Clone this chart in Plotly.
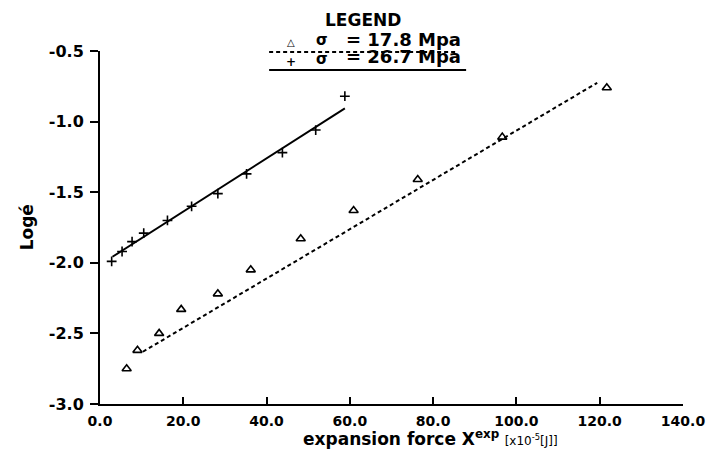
import plotly.graph_objects as go

# sigma = 17.8 MPa (triangles)
tri_x = [6.4, 9.0, 14.2, 19.5, 28.3, 36.2, 48.2, 60.9, 76.3, 96.6, 121.7]
tri_y = [-2.75, -2.62, -2.50, -2.33, -2.22, -2.05, -1.83, -1.63, -1.41, -1.11, -0.76]
# sigma = 26.7 MPa (plus)
plus_x = [2.8, 5.3, 7.7, 10.5, 16.2, 22.0, 28.3, 35.2, 43.8, 51.8, 58.8]
plus_y = [-1.99, -1.92, -1.85, -1.79, -1.70, -1.60, -1.51, -1.37, -1.22, -1.06, -0.82]
# fitted lines (end points)
fit_tri_x = [10.3, 119.4]
fit_tri_y = [-2.63, -0.725]
fit_plus_x = [3.0, 58.8]
fit_plus_y = [-1.957, -0.906]

x_ticks = [0, 20, 40, 60, 80, 100, 120, 140]
x_ticktext = ["0.0", "20.0", "40.0", "60.0", "80.0", "100.0", "120.0", "140.0"]
y_ticks = [-3.0, -2.5, -2.0, -1.5, -1.0, -0.5]
y_ticktext = ["-3.0", "-2.5", "-2.0", "-1.5", "-1.0", "-0.5"]

FONT = "DejaVu Sans"
BOLD = "'DejaVu Sans Bold', 'DejaVu Sans'"
W, H = 717, 450
L, R, T, B = 100, 31, 51, 46
PW, PH = W - L - R, H - T - B


def px(xp):
    return (xp - L) / PW


def py(yp):
    return (H - B - yp) / PH


fig = go.Figure()
fig.add_trace(go.Scatter(x=fit_tri_x, y=fit_tri_y, mode="lines",
                         line=dict(color="black", width=2, dash="4px,3px"),
                         showlegend=False))
fig.add_trace(go.Scatter(x=fit_plus_x, y=fit_plus_y, mode="lines",
                         line=dict(color="black", width=2),
                         showlegend=False))
fig.add_trace(go.Scatter(x=tri_x, y=tri_y, mode="markers",
                         marker=dict(symbol="triangle-up-open", size=8, color="black",
                                     line=dict(width=1.6, color="black")),
                         showlegend=False))
fig.add_trace(go.Scatter(x=plus_x, y=plus_y, mode="markers",
                         marker=dict(symbol="cross-thin", size=7, color="black",
                                     line=dict(width=1.6, color="black")),
                         showlegend=False))

fig.update_layout(
    width=W, height=H,
    margin=dict(l=L, r=R, t=T, b=B),
    paper_bgcolor="white", plot_bgcolor="white",
    font=dict(family=FONT, color="black"),
    xaxis=dict(range=[0, 140], tickvals=x_ticks, ticktext=x_ticktext,
               showgrid=False, zeroline=False, showline=True, linecolor="black",
               linewidth=2, ticks="inside", ticklen=7, tickwidth=1.5, tickcolor="black",
               tickfont=dict(family=BOLD, size=14, color="black", weight=700),
               ticklabelstandoff=3),
    yaxis=dict(range=[-3.0, -0.5], tickvals=y_ticks, ticktext=y_ticktext,
               showgrid=False, zeroline=False, showline=True, linecolor="black",
               linewidth=2, ticks="outside", ticklen=8, tickwidth=1.5, tickcolor="black",
               tickfont=dict(family=BOLD, size=16, color="black", weight=700),
               ticklabelstandoff=3),
)

annotations = [
    dict(text="<b>Logé</b>", textangle=-90, x=px(27), y=py(227), size=17),
    dict(text="<b>expansion force X<sup>exp</sup></b> <span style='font-size:12px'>[x10<sup>-5</sup>[J]]</span>",
         x=px(432), y=py(438), size=17),
    dict(text="<b>LEGEND</b>", x=px(364), y=py(20), size=17),
    dict(text="△", x=px(292), y=py(42), size=10),
    dict(text="<b>σ</b>", x=px(323), y=py(40), size=15),
    dict(text="<b>= 17.8 Mpa</b>", x=px(345), y=py(39), xanchor="left", size=18),
    dict(text="<b>+</b>", x=px(292), y=py(62), size=12),
    dict(text="<b>σ</b>", x=px(323), y=py(59), size=15),
    dict(text="<b>= 26.7 Mpa</b>", x=px(345), y=py(57), xanchor="left", size=18),
]
for a in annotations:
    size = a.pop("size")
    a.setdefault("xanchor", "center")
    fig.add_annotation(xref="paper", yref="paper", showarrow=False, yanchor="middle",
                       font=dict(family=FONT, color="black", size=size), **a)

fig.add_shape(type="line", xref="paper", yref="paper", x0=px(270), x1=px(460), y0=py(52), y1=py(52),
              line=dict(color="black", width=2, dash="4px,3px"))
fig.add_shape(type="line", xref="paper", yref="paper", x0=px(270), x1=px(468), y0=py(70), y1=py(70),
              line=dict(color="black", width=2))

fig.write_html("out.html")
